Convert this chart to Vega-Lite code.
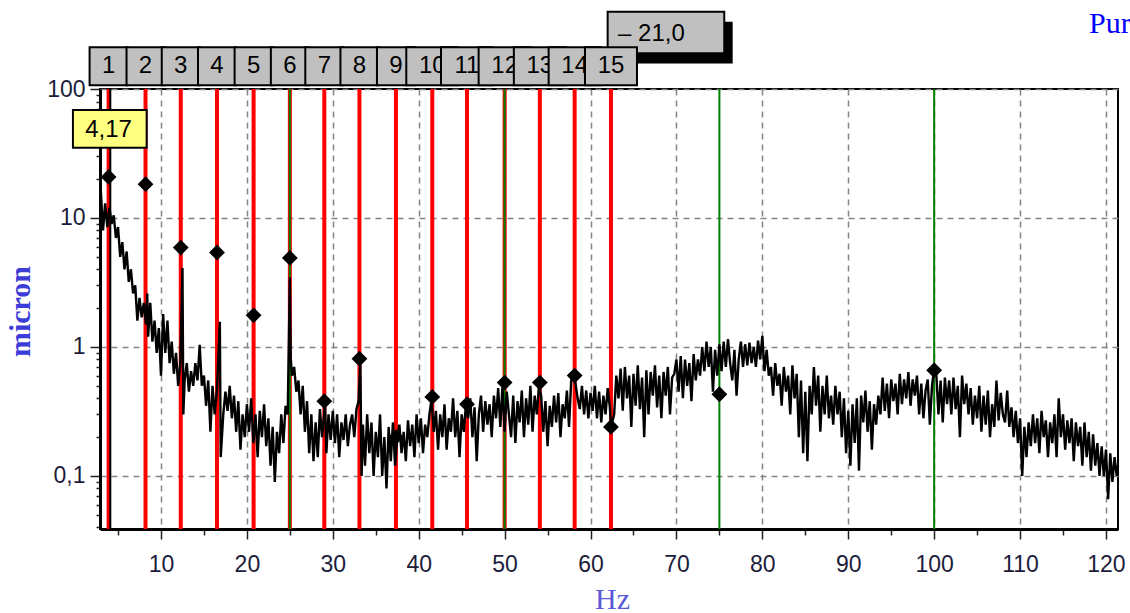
{
  "$schema": "https://vega.github.io/schema/vega-lite/v6.json",
  "width": 1018,
  "height": 440,
  "autosize": {"type": "none"},
  "padding": {"left": 100, "top": 89, "right": 12, "bottom": 84},
  "background": "white",
  "config": {
    "view": {"stroke": "#000", "strokeWidth": 2},
    "axis": {"labelOverlap": false, "labelFlush": false}
  },
  "datasets": {
    "spec": [
      {"f":3.0,"a":16},{"f":3.25,"a":8},{"f":3.5,"a":13},{"f":3.75,"a":8.5},{"f":4.0,"a":12},{"f":4.25,"a":9},{"f":4.5,"a":10.5},{"f":4.75,"a":7},
      {"f":5.0,"a":8.5},{"f":5.25,"a":5},{"f":5.5,"a":6.5},{"f":5.75,"a":4},{"f":6.0,"a":5.5},{"f":6.25,"a":3.2},{"f":6.5,"a":4},{"f":6.75,"a":2.6},
      {"f":7.0,"a":3},{"f":7.25,"a":1.6},{"f":7.5,"a":2.4},{"f":7.75,"a":1.7},{"f":8.0,"a":2.2},{"f":8.25,"a":1.5},{"f":8.4,"a":2.6},{"f":8.5,"a":1.2},
      {"f":8.75,"a":2.2},{"f":9.0,"a":1.1},{"f":9.25,"a":1.6},{"f":9.5,"a":0.9},{"f":9.75,"a":1.4},{"f":10.0,"a":0.6},{"f":10.25,"a":1.8},{"f":10.5,"a":0.9},
      {"f":10.75,"a":1.6},{"f":11.0,"a":0.75},{"f":11.25,"a":1.1},{"f":11.5,"a":0.62},{"f":11.75,"a":0.9},{"f":12.0,"a":0.5},{"f":12.25,"a":0.75},{"f":12.5,"a":4.1},
      {"f":12.6,"a":0.3},{"f":12.75,"a":0.55},{"f":13.0,"a":0.75},{"f":13.25,"a":0.45},{"f":13.5,"a":0.65},{"f":13.75,"a":0.5},{"f":14.0,"a":0.75},{"f":14.25,"a":0.55},
      {"f":14.5,"a":1.04},{"f":14.75,"a":0.5},{"f":15.0,"a":0.6},{"f":15.25,"a":0.35},{"f":15.5,"a":0.55},{"f":15.75,"a":0.22},{"f":16.0,"a":0.5},{"f":16.25,"a":0.3},
      {"f":16.5,"a":0.45},{"f":16.85,"a":1.57},{"f":16.95,"a":0.14},{"f":17.25,"a":0.3},{"f":17.5,"a":0.45},{"f":17.75,"a":0.32},{"f":18.0,"a":0.5},{"f":18.25,"a":0.28},
      {"f":18.5,"a":0.42},{"f":18.75,"a":0.22},{"f":19.0,"a":0.38},{"f":19.25,"a":0.16},{"f":19.5,"a":0.3},{"f":19.75,"a":0.2},{"f":20.0,"a":0.36},{"f":20.25,"a":0.22},
      {"f":20.5,"a":0.4},{"f":20.75,"a":0.18},{"f":21.0,"a":0.3},{"f":21.25,"a":0.14},{"f":21.5,"a":0.32},{"f":21.75,"a":0.2},{"f":22.0,"a":0.36},{"f":22.25,"a":0.17},
      {"f":22.5,"a":0.28},{"f":22.75,"a":0.12},{"f":23.0,"a":0.24},{"f":23.25,"a":0.09},{"f":23.5,"a":0.22},{"f":23.75,"a":0.15},{"f":24.0,"a":0.3},{"f":24.25,"a":0.18},
      {"f":24.5,"a":0.35},{"f":24.75,"a":0.3},{"f":25.0,"a":3.45},{"f":25.1,"a":0.82},{"f":25.25,"a":0.6},{"f":25.5,"a":0.7},{"f":25.75,"a":0.45},{"f":26.0,"a":0.55},
      {"f":26.25,"a":0.3},{"f":26.5,"a":0.5},{"f":26.75,"a":0.22},{"f":27.0,"a":0.38},{"f":27.25,"a":0.15},{"f":27.5,"a":0.3},{"f":27.75,"a":0.13},{"f":28.0,"a":0.26},
      {"f":28.25,"a":0.14},{"f":28.5,"a":0.33},{"f":28.75,"a":0.2},{"f":29.1,"a":0.36},{"f":29.25,"a":0.15},{"f":29.5,"a":0.3},{"f":29.75,"a":0.19},{"f":30.0,"a":0.32},
      {"f":30.25,"a":0.18},{"f":30.5,"a":0.3},{"f":30.75,"a":0.14},{"f":31.0,"a":0.26},{"f":31.25,"a":0.19},{"f":31.5,"a":0.3},{"f":31.75,"a":0.17},{"f":32.0,"a":0.25},
      {"f":32.25,"a":0.3},{"f":32.5,"a":0.2},{"f":32.75,"a":0.33},{"f":33.0,"a":0.38},{"f":33.2,"a":0.75},{"f":33.35,"a":0.1},{"f":33.5,"a":0.25},{"f":33.75,"a":0.12},
      {"f":34.0,"a":0.3},{"f":34.25,"a":0.15},{"f":34.5,"a":0.26},{"f":34.75,"a":0.1},{"f":35.0,"a":0.22},{"f":35.25,"a":0.14},{"f":35.5,"a":0.3},{"f":35.75,"a":0.1},
      {"f":36.0,"a":0.2},{"f":36.25,"a":0.08},{"f":36.5,"a":0.24},{"f":36.75,"a":0.13},{"f":37.0,"a":0.26},{"f":37.25,"a":0.12},{"f":37.5,"a":0.2},{"f":37.75,"a":0.25},
      {"f":38.0,"a":0.15},{"f":38.25,"a":0.22},{"f":38.5,"a":0.13},{"f":38.75,"a":0.27},{"f":39.0,"a":0.17},{"f":39.25,"a":0.25},{"f":39.5,"a":0.14},{"f":39.75,"a":0.3},
      {"f":40.0,"a":0.18},{"f":40.25,"a":0.28},{"f":40.5,"a":0.15},{"f":40.75,"a":0.25},{"f":41.0,"a":0.2},{"f":41.25,"a":0.3},{"f":41.5,"a":0.4},{"f":41.75,"a":0.22},
      {"f":42.0,"a":0.32},{"f":42.25,"a":0.16},{"f":42.5,"a":0.3},{"f":42.75,"a":0.2},{"f":43.0,"a":0.36},{"f":43.25,"a":0.16},{"f":43.5,"a":0.28},{"f":43.75,"a":0.22},
      {"f":44.0,"a":0.4},{"f":44.25,"a":0.2},{"f":44.5,"a":0.32},{"f":44.75,"a":0.14},{"f":45.0,"a":0.3},{"f":45.25,"a":0.22},{"f":45.5,"a":0.36},{"f":45.75,"a":0.28},
      {"f":46.0,"a":0.4},{"f":46.25,"a":0.2},{"f":46.5,"a":0.34},{"f":46.75,"a":0.13},{"f":47.0,"a":0.3},{"f":47.25,"a":0.42},{"f":47.5,"a":0.22},{"f":47.75,"a":0.38},
      {"f":48.0,"a":0.25},{"f":48.25,"a":0.36},{"f":48.5,"a":0.2},{"f":48.75,"a":0.42},{"f":49.0,"a":0.28},{"f":49.25,"a":0.48},{"f":49.5,"a":0.24},{"f":49.75,"a":0.5},
      {"f":50.0,"a":0.22},{"f":50.25,"a":0.45},{"f":50.5,"a":0.3},{"f":50.75,"a":0.2},{"f":51.0,"a":0.42},{"f":51.25,"a":0.18},{"f":51.5,"a":0.38},{"f":51.75,"a":0.26},
      {"f":52.0,"a":0.46},{"f":52.25,"a":0.2},{"f":52.5,"a":0.4},{"f":52.75,"a":0.25},{"f":53.0,"a":0.5},{"f":53.25,"a":0.22},{"f":53.5,"a":0.42},{"f":53.75,"a":0.3},
      {"f":54.0,"a":0.5},{"f":54.25,"a":0.42},{"f":54.5,"a":0.22},{"f":54.75,"a":0.38},{"f":55.0,"a":0.17},{"f":55.25,"a":0.35},{"f":55.5,"a":0.24},{"f":55.75,"a":0.42},
      {"f":56.0,"a":0.26},{"f":56.25,"a":0.44},{"f":56.5,"a":0.2},{"f":56.75,"a":0.36},{"f":57.0,"a":0.28},{"f":57.25,"a":0.46},{"f":57.5,"a":0.24},{"f":57.75,"a":0.55},
      {"f":58.0,"a":0.58},{"f":58.25,"a":0.52},{"f":58.5,"a":0.4},{"f":58.75,"a":0.33},{"f":59.0,"a":0.5},{"f":59.25,"a":0.3},{"f":59.5,"a":0.46},{"f":59.75,"a":0.28},
      {"f":60.0,"a":0.44},{"f":60.25,"a":0.32},{"f":60.5,"a":0.5},{"f":60.75,"a":0.28},{"f":61.0,"a":0.45},{"f":61.25,"a":0.26},{"f":61.5,"a":0.42},{"f":61.75,"a":0.3},
      {"f":62.0,"a":0.48},{"f":62.25,"a":0.34},{"f":62.4,"a":0.24},{"f":62.75,"a":0.3},{"f":63.0,"a":0.6},{"f":63.25,"a":0.4},{"f":63.5,"a":0.68},{"f":63.75,"a":0.32},
      {"f":64.0,"a":0.7},{"f":64.25,"a":0.4},{"f":64.5,"a":0.6},{"f":64.75,"a":0.24},{"f":65.0,"a":0.62},{"f":65.25,"a":0.35},{"f":65.5,"a":0.72},{"f":65.75,"a":0.33},
      {"f":66.0,"a":0.58},{"f":66.25,"a":0.2},{"f":66.5,"a":0.66},{"f":66.75,"a":0.3},{"f":67.0,"a":0.64},{"f":67.25,"a":0.42},{"f":67.5,"a":0.72},{"f":67.75,"a":0.34},
      {"f":68.0,"a":0.6},{"f":68.25,"a":0.28},{"f":68.5,"a":0.64},{"f":68.75,"a":0.42},{"f":69.0,"a":0.7},{"f":69.25,"a":0.3},{"f":69.5,"a":0.58},{"f":69.75,"a":0.62},
      {"f":70.0,"a":0.8},{"f":70.25,"a":0.45},{"f":70.5,"a":0.85},{"f":70.75,"a":0.4},{"f":71.0,"a":0.8},{"f":71.25,"a":0.5},{"f":71.5,"a":0.75},{"f":71.75,"a":0.38},
      {"f":72.0,"a":0.88},{"f":72.25,"a":0.55},{"f":72.5,"a":0.8},{"f":72.75,"a":0.6},{"f":73.0,"a":1.0},{"f":73.25,"a":0.65},{"f":73.5,"a":1.1},{"f":73.75,"a":0.7},
      {"f":74.0,"a":1.0},{"f":74.25,"a":0.45},{"f":74.5,"a":0.95},{"f":74.75,"a":0.6},{"f":75.0,"a":1.05},{"f":75.25,"a":0.65},{"f":75.5,"a":1.1},{"f":75.75,"a":0.7},
      {"f":76.0,"a":1.15},{"f":76.25,"a":0.75},{"f":76.5,"a":0.55},{"f":76.75,"a":0.95},{"f":77.0,"a":0.42},{"f":77.25,"a":0.8},{"f":77.5,"a":1.1},{"f":77.75,"a":0.7},
      {"f":78.0,"a":1.05},{"f":78.25,"a":0.72},{"f":78.5,"a":1.08},{"f":78.75,"a":0.75},{"f":79.0,"a":1.0},{"f":79.25,"a":0.7},{"f":79.5,"a":1.12},{"f":79.75,"a":0.8},
      {"f":80.0,"a":1.22},{"f":80.25,"a":0.65},{"f":80.5,"a":0.95},{"f":80.75,"a":0.6},{"f":81.0,"a":0.7},{"f":81.25,"a":0.42},{"f":81.5,"a":0.75},{"f":81.75,"a":0.5},
      {"f":82.0,"a":0.62},{"f":82.25,"a":0.35},{"f":82.5,"a":0.7},{"f":82.75,"a":0.45},{"f":83.0,"a":0.6},{"f":83.25,"a":0.3},{"f":83.5,"a":0.72},{"f":83.75,"a":0.4},
      {"f":84.0,"a":0.62},{"f":84.25,"a":0.2},{"f":84.5,"a":0.55},{"f":84.75,"a":0.15},{"f":85.0,"a":0.45},{"f":85.25,"a":0.13},{"f":85.5,"a":0.5},{"f":85.75,"a":0.3},
      {"f":86.0,"a":0.7},{"f":86.25,"a":0.35},{"f":86.5,"a":0.6},{"f":86.75,"a":0.22},{"f":87.0,"a":0.5},{"f":87.25,"a":0.3},{"f":87.5,"a":0.6},{"f":87.75,"a":0.28},
      {"f":88.0,"a":0.42},{"f":88.25,"a":0.25},{"f":88.5,"a":0.5},{"f":88.75,"a":0.3},{"f":89.0,"a":0.45},{"f":89.25,"a":0.2},{"f":89.5,"a":0.4},{"f":89.75,"a":0.15},
      {"f":90.0,"a":0.32},{"f":90.25,"a":0.12},{"f":90.5,"a":0.36},{"f":90.75,"a":0.18},{"f":91.0,"a":0.4},{"f":91.25,"a":0.11},{"f":91.5,"a":0.42},{"f":91.75,"a":0.26},
      {"f":92.0,"a":0.46},{"f":92.25,"a":0.22},{"f":92.5,"a":0.38},{"f":92.75,"a":0.16},{"f":93.0,"a":0.36},{"f":93.25,"a":0.25},{"f":93.5,"a":0.42},{"f":93.75,"a":0.3},
      {"f":94.0,"a":0.58},{"f":94.25,"a":0.32},{"f":94.5,"a":0.52},{"f":94.75,"a":0.28},{"f":95.0,"a":0.56},{"f":95.25,"a":0.38},{"f":95.5,"a":0.52},{"f":95.75,"a":0.3},
      {"f":96.0,"a":0.62},{"f":96.25,"a":0.36},{"f":96.5,"a":0.56},{"f":96.75,"a":0.4},{"f":97.0,"a":0.64},{"f":97.25,"a":0.35},{"f":97.5,"a":0.56},{"f":97.75,"a":0.42},
      {"f":98.0,"a":0.6},{"f":98.25,"a":0.3},{"f":98.5,"a":0.52},{"f":98.75,"a":0.28},{"f":99.0,"a":0.46},{"f":99.25,"a":0.56},{"f":99.5,"a":0.25},{"f":99.75,"a":0.5},
      {"f":100.0,"a":0.68},{"f":100.25,"a":0.62},{"f":100.5,"a":0.3},{"f":100.75,"a":0.55},{"f":101.0,"a":0.26},{"f":101.25,"a":0.58},{"f":101.5,"a":0.36},{"f":101.75,"a":0.55},
      {"f":102.0,"a":0.3},{"f":102.25,"a":0.58},{"f":102.5,"a":0.33},{"f":102.75,"a":0.5},{"f":103.0,"a":0.2},{"f":103.25,"a":0.6},{"f":103.5,"a":0.36},{"f":103.75,"a":0.52},
      {"f":104.0,"a":0.3},{"f":104.25,"a":0.48},{"f":104.5,"a":0.25},{"f":104.75,"a":0.42},{"f":105.0,"a":0.28},{"f":105.25,"a":0.5},{"f":105.5,"a":0.22},{"f":105.75,"a":0.42},
      {"f":106.0,"a":0.25},{"f":106.25,"a":0.46},{"f":106.5,"a":0.2},{"f":106.75,"a":0.36},{"f":107.0,"a":0.24},{"f":107.25,"a":0.55},{"f":107.5,"a":0.27},{"f":107.75,"a":0.44},
      {"f":108.0,"a":0.3},{"f":108.25,"a":0.26},{"f":108.5,"a":0.46},{"f":108.75,"a":0.24},{"f":109.0,"a":0.34},{"f":109.25,"a":0.2},{"f":109.5,"a":0.32},{"f":109.75,"a":0.18},
      {"f":110.0,"a":0.28},{"f":110.25,"a":0.1},{"f":110.5,"a":0.24},{"f":110.75,"a":0.14},{"f":111.0,"a":0.26},{"f":111.25,"a":0.17},{"f":111.5,"a":0.3},{"f":111.75,"a":0.18},
      {"f":112.0,"a":0.28},{"f":112.25,"a":0.15},{"f":112.5,"a":0.32},{"f":112.75,"a":0.2},{"f":113.0,"a":0.27},{"f":113.25,"a":0.14},{"f":113.5,"a":0.26},{"f":113.75,"a":0.18},
      {"f":114.0,"a":0.3},{"f":114.25,"a":0.14},{"f":114.5,"a":0.4},{"f":114.75,"a":0.2},{"f":115.0,"a":0.3},{"f":115.25,"a":0.16},{"f":115.5,"a":0.27},{"f":115.75,"a":0.18},
      {"f":116.0,"a":0.28},{"f":116.25,"a":0.13},{"f":116.5,"a":0.26},{"f":116.75,"a":0.17},{"f":117.0,"a":0.24},{"f":117.25,"a":0.12},{"f":117.5,"a":0.26},{"f":117.75,"a":0.14},
      {"f":118.0,"a":0.22},{"f":118.25,"a":0.11},{"f":118.5,"a":0.21},{"f":118.75,"a":0.12},{"f":119.0,"a":0.18},{"f":119.25,"a":0.1},{"f":119.5,"a":0.17},{"f":119.75,"a":0.1},
      {"f":120.0,"a":0.16},{"f":120.25,"a":0.066},{"f":120.5,"a":0.15},{"f":120.75,"a":0.09},{"f":121.0,"a":0.14},{"f":121.25,"a":0.1},{"f":121.4,"a":0.12}
    ],
    "harm": [
      {"k":1,"f":3.9,"a":20.8},{"k":2,"f":8.2,"a":18.3},{"k":3,"f":12.3,"a":5.9},{"k":4,"f":16.52,"a":5.4},{"k":5,"f":20.78,"a":1.76},
      {"k":6,"f":25.0,"a":4.9},{"k":7,"f":29.01,"a":0.38},{"k":8,"f":33.1,"a":0.81},{"k":9,"f":37.35,"a":0.2},{"k":10,"f":41.58,"a":0.41},
      {"k":11,"f":45.62,"a":0.36},{"k":12,"f":50.0,"a":0.53},{"k":13,"f":54.1,"a":0.53},{"k":14,"f":58.15,"a":0.6},{"k":15,"f":62.38,"a":0.24}
    ],
    "peaks": [
      {"f":3.9,"a":20.8},{"f":8.2,"a":18.3},{"f":12.3,"a":5.9},{"f":16.52,"a":5.4},{"f":20.78,"a":1.76},
      {"f":25.0,"a":4.9},{"f":29.01,"a":0.38},{"f":33.1,"a":0.81},{"f":37.35,"a":0.2},{"f":41.58,"a":0.41},
      {"f":45.62,"a":0.36},{"f":50.0,"a":0.53},{"f":54.1,"a":0.53},{"f":58.15,"a":0.6},{"f":62.38,"a":0.24},
      {"f":75,"a":0.43},{"f":100,"a":0.66}
    ],
    "green": [{"f":25},{"f":50},{"f":75},{"f":100}],
    "cursor": [{"f":4.1,"label":"4,17"}],
    "reading": [{"label":"– 21,0"}],
    "corner": [{"label":"Pur"}]
  },
  "layer": [
    {
      "data": {"name": "spec"},
      "mark": {"type": "line", "color": "#000", "strokeWidth": 2.4, "interpolate": "linear", "opacity": 0},
      "encoding": {
        "x": {"field": "f", "type": "quantitative", "scale": {"domain": [2.9, 121.4], "nice": false, "zero": false},
          "axis": {
            "title": "Hz",
            "values": [5,7.5,10,12.5,15,17.5,20,22.5,25,27.5,30,32.5,35,37.5,40,42.5,45,47.5,50,52.5,55,57.5,60,62.5,65,67.5,70,72.5,75,77.5,80,82.5,85,87.5,90,92.5,95,97.5,100,102.5,105,107.5,110,112.5,115,117.5,120],
            "labelExpr": "datum.value % 10 === 0 ? datum.label : ''",
            "grid": true, "gridColor": "#858585", "gridDash": [6,5], "gridWidth": 1.5,
            "gridOpacity": {"condition": {"test": "datum.value % 10 === 0", "value": 1}, "value": 0},
            "tickSize": {"condition": {"test": "datum.value % 10 === 0", "value": 10}, "value": 6},
            "tickColor": "#222", "tickWidth": 1.5,
            "domainColor": "#000", "domainWidth": 3,
            "labelFont": "Liberation Sans", "labelFontSize": 23, "labelColor": "#1c1c3a",
            "labelBaseline": "alphabetic", "labelPadding": 32,
            "titleFont": "Liberation Serif", "titleFontSize": 30, "titleFontWeight": "normal", "titleColor": "#5a5ad6",
            "titleX": 512, "titleY": 79, "titleAlign": "center", "titleBaseline": "alphabetic"
          }
        },
        "y": {"field": "a", "type": "quantitative", "scale": {"type": "log", "domain": [0.0388, 100], "nice": false},
          "axis": {
            "title": "micron",
            "values": [0.04,0.05,0.06,0.07,0.08,0.09,0.1,0.2,0.3,0.4,0.5,0.6,0.7,0.8,0.9,1,2,3,4,5,6,7,8,9,10,20,30,40,50,60,70,80,90,100],
            "labelExpr": "datum.value == 100 ? '100' : datum.value == 10 ? '10' : datum.value == 1 ? '1' : datum.value == 0.1 ? '0,1' : ''",
            "grid": true, "gridColor": "#858585", "gridDash": [6,5], "gridWidth": 1.5,
            "gridOpacity": {"condition": {"test": "datum.value == 0.1 || datum.value == 1 || datum.value == 10 || datum.value == 100", "value": 1}, "value": 0},
            "tickSize": {"condition": {"test": "datum.value == 0.1 || datum.value == 1 || datum.value == 10 || datum.value == 100", "value": 10}, "value": 4},
            "tickColor": "#222", "tickWidth": 1.5,
            "domainColor": "#000", "domainWidth": 3,
            "labelFont": "Liberation Sans", "labelFontSize": 23, "labelColor": "#1c1c3a", "labelPadding": 5,
            "titleFont": "Liberation Serif", "titleFontSize": 30, "titleFontWeight": "bold", "titleColor": "#3c3cd6",
            "titleX": -80, "titleY": 222, "titleAngle": -90, "titleAlign": "center", "titleBaseline": "middle"
          }
        }
      }
    },
    {
      "data": {"name": "harm"},
      "mark": {"type": "rule", "color": "#ff0000", "strokeWidth": 4},
      "encoding": {
        "x": {"field": "f", "type": "quantitative"}
      }
    },
    {
      "data": {"name": "green"},
      "mark": {"type": "rule", "color": "#008000", "strokeWidth": 2},
      "encoding": {
        "x": {"field": "f", "type": "quantitative"}
      }
    },
    {
      "data": {"name": "cursor"},
      "mark": {"type": "rule", "color": "#000", "strokeWidth": 2},
      "encoding": {
        "x": {"field": "f", "type": "quantitative"}
      }
    },
    {
      "data": {"name": "spec"},
      "mark": {"type": "line", "color": "#000", "strokeWidth": 2.4, "interpolate": "linear"},
      "encoding": {
        "x": {"field": "f", "type": "quantitative"},
        "y": {"field": "a", "type": "quantitative"}
      }
    },
    {
      "data": {"name": "peaks"},
      "mark": {"type": "point", "shape": "diamond", "filled": true, "color": "#000", "size": 250, "opacity": 1},
      "encoding": {
        "x": {"field": "f", "type": "quantitative"},
        "y": {"field": "a", "type": "quantitative"}
      }
    },
    {
      "data": {"name": "reading"},
      "mark": {"type": "point", "shape": "M-1,-0.357H1V0.357H-1Z", "size": 13595, "filled": true, "color": "#000", "opacity": 1},
      "encoding": {
        "x": {"datum": 69.76, "type": "quantitative"},
        "y": {"datum": 229, "type": "quantitative"}
      }
    },
    {
      "data": {"name": "reading"},
      "mark": {"type": "point", "shape": "M-1,-0.357H1V0.357H-1Z", "size": 13595, "filled": true, "fill": "#c0c0c0", "stroke": "#000", "strokeWidth": 2, "opacity": 1},
      "encoding": {
        "x": {"datum": 68.78, "type": "quantitative"},
        "y": {"datum": 274, "type": "quantitative"}
      }
    },
    {
      "data": {"name": "reading"},
      "mark": {"type": "text", "font": "Liberation Sans", "fontSize": 24, "color": "#000", "align": "left", "baseline": "middle"},
      "encoding": {
        "x": {"datum": 63.2, "type": "quantitative"},
        "y": {"datum": 266, "type": "quantitative"},
        "text": {"field": "label"}
      }
    },
    {
      "data": {"name": "harm"},
      "transform": [{"filter": "datum.k <= 10"}],
      "mark": {"type": "point", "filled": true, "fill": "#c0c0c0", "stroke": "#000", "strokeWidth": 2, "opacity": 1},
      "encoding": {
        "x": {"field": "f", "type": "quantitative"},
        "y": {"datum": 150, "type": "quantitative"},
        "shape": {"condition": {"test": "datum.k >= 10", "value": "M-1,-0.731H1V0.731H-1Z"}, "value": "square"},
        "size": {"condition": {"test": "datum.k >= 10", "value": 2704}, "value": 1444}
      }
    },
    {
      "data": {"name": "harm"},
      "transform": [{"filter": "datum.k <= 10"}],
      "mark": {"type": "text", "font": "Liberation Sans", "fontSize": 24, "color": "#000", "align": "center", "baseline": "middle"},
      "encoding": {
        "x": {"field": "f", "type": "quantitative"},
        "y": {"datum": 150, "type": "quantitative"},
        "text": {"field": "k"}
      }
    },
    {
      "data": {"name": "harm"},
      "transform": [{"filter": "datum.k == 11"}],
      "mark": {"type": "point", "shape": "M-1,-0.731H1V0.731H-1Z", "size": 2704, "filled": true, "fill": "#c0c0c0", "stroke": "#000", "strokeWidth": 2, "opacity": 1},
      "encoding": {
        "x": {"field": "f", "type": "quantitative"},
        "y": {"datum": 150, "type": "quantitative"}
      }
    },
    {
      "data": {"name": "harm"},
      "transform": [{"filter": "datum.k == 11"}],
      "mark": {"type": "text", "font": "Liberation Sans", "fontSize": 24, "color": "#000", "align": "center", "baseline": "middle"},
      "encoding": {
        "x": {"field": "f", "type": "quantitative"},
        "y": {"datum": 150, "type": "quantitative"},
        "text": {"field": "k"}
      }
    },
    {
      "data": {"name": "harm"},
      "transform": [{"filter": "datum.k == 12"}],
      "mark": {"type": "point", "shape": "M-1,-0.731H1V0.731H-1Z", "size": 2704, "filled": true, "fill": "#c0c0c0", "stroke": "#000", "strokeWidth": 2, "opacity": 1},
      "encoding": {
        "x": {"field": "f", "type": "quantitative"},
        "y": {"datum": 150, "type": "quantitative"}
      }
    },
    {
      "data": {"name": "harm"},
      "transform": [{"filter": "datum.k == 12"}],
      "mark": {"type": "text", "font": "Liberation Sans", "fontSize": 24, "color": "#000", "align": "center", "baseline": "middle"},
      "encoding": {
        "x": {"field": "f", "type": "quantitative"},
        "y": {"datum": 150, "type": "quantitative"},
        "text": {"field": "k"}
      }
    },
    {
      "data": {"name": "harm"},
      "transform": [{"filter": "datum.k == 13"}],
      "mark": {"type": "point", "shape": "M-1,-0.731H1V0.731H-1Z", "size": 2704, "filled": true, "fill": "#c0c0c0", "stroke": "#000", "strokeWidth": 2, "opacity": 1},
      "encoding": {
        "x": {"field": "f", "type": "quantitative"},
        "y": {"datum": 150, "type": "quantitative"}
      }
    },
    {
      "data": {"name": "harm"},
      "transform": [{"filter": "datum.k == 13"}],
      "mark": {"type": "text", "font": "Liberation Sans", "fontSize": 24, "color": "#000", "align": "center", "baseline": "middle"},
      "encoding": {
        "x": {"field": "f", "type": "quantitative"},
        "y": {"datum": 150, "type": "quantitative"},
        "text": {"field": "k"}
      }
    },
    {
      "data": {"name": "harm"},
      "transform": [{"filter": "datum.k == 14"}],
      "mark": {"type": "point", "shape": "M-1,-0.731H1V0.731H-1Z", "size": 2704, "filled": true, "fill": "#c0c0c0", "stroke": "#000", "strokeWidth": 2, "opacity": 1},
      "encoding": {
        "x": {"field": "f", "type": "quantitative"},
        "y": {"datum": 150, "type": "quantitative"}
      }
    },
    {
      "data": {"name": "harm"},
      "transform": [{"filter": "datum.k == 14"}],
      "mark": {"type": "text", "font": "Liberation Sans", "fontSize": 24, "color": "#000", "align": "center", "baseline": "middle"},
      "encoding": {
        "x": {"field": "f", "type": "quantitative"},
        "y": {"datum": 150, "type": "quantitative"},
        "text": {"field": "k"}
      }
    },
    {
      "data": {"name": "harm"},
      "transform": [{"filter": "datum.k == 15"}],
      "mark": {"type": "point", "shape": "M-1,-0.731H1V0.731H-1Z", "size": 2704, "filled": true, "fill": "#c0c0c0", "stroke": "#000", "strokeWidth": 2, "opacity": 1},
      "encoding": {
        "x": {"field": "f", "type": "quantitative"},
        "y": {"datum": 150, "type": "quantitative"}
      }
    },
    {
      "data": {"name": "harm"},
      "transform": [{"filter": "datum.k == 15"}],
      "mark": {"type": "text", "font": "Liberation Sans", "fontSize": 24, "color": "#000", "align": "center", "baseline": "middle"},
      "encoding": {
        "x": {"field": "f", "type": "quantitative"},
        "y": {"datum": 150, "type": "quantitative"},
        "text": {"field": "k"}
      }
    },
    {
      "data": {"name": "cursor"},
      "mark": {"type": "point", "shape": "M-1,-0.512H1V0.512H-1Z", "size": 5432, "filled": true, "fill": "#ffff80", "stroke": "#000", "strokeWidth": 2, "opacity": 1},
      "encoding": {
        "x": {"datum": 4.04, "type": "quantitative"},
        "y": {"datum": 49.1, "type": "quantitative"}
      }
    },
    {
      "data": {"name": "cursor"},
      "mark": {"type": "text", "font": "Liberation Sans", "fontSize": 24, "color": "#000", "align": "center", "baseline": "middle"},
      "encoding": {
        "x": {"datum": 3.9, "type": "quantitative"},
        "y": {"datum": 48.1, "type": "quantitative"},
        "text": {"field": "label"}
      }
    },
    {
      "data": {"name": "corner"},
      "mark": {"type": "text", "font": "Liberation Serif", "fontSize": 30, "color": "#0000ff", "align": "left", "baseline": "alphabetic"},
      "encoding": {
        "x": {"datum": 118.02, "type": "quantitative"},
        "y": {"datum": 271.5, "type": "quantitative"},
        "text": {"field": "label"}
      }
    }
  ]
}
